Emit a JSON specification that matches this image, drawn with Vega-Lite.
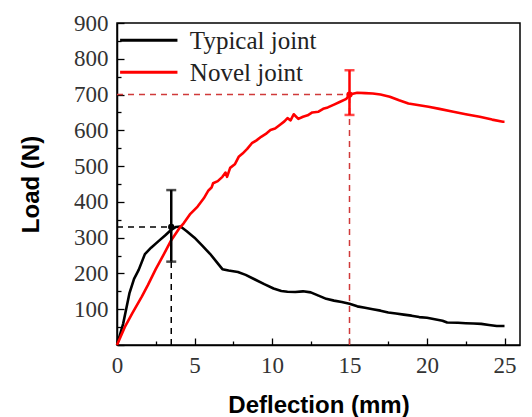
{
  "$schema": "https://vega.github.io/schema/vega-lite/v6.json",
  "width": 403,
  "height": 322,
  "autosize": {"type": "none"},
  "padding": {"left": 117, "top": 23, "right": 12, "bottom": 72},
  "background": "white",
  "resolve": {"axis": {"x": "independent", "y": "independent"}},
  "config": {
    "view": {"stroke": "black", "strokeWidth": 1.5},
    "axis": {
      "grid": false,
      "domainColor": "black",
      "domainWidth": 1.5,
      "tickColor": "black",
      "tickWidth": 1.3,
      "labelFont": "Liberation Serif",
      "labelFontSize": 23,
      "labelColor": "#333",
      "labelOverlap": false,
      "titleFont": "Liberation Sans",
      "titleFontWeight": "bold",
      "titleFontSize": 24,
      "titleColor": "black"
    }
  },
  "datasets": {
    "curves": [
      {"series": "Typical joint", "x": 0, "y": 0},
      {"series": "Typical joint", "x": 0.4, "y": 60},
      {"series": "Typical joint", "x": 0.8, "y": 144},
      {"series": "Typical joint", "x": 1.1, "y": 185},
      {"series": "Typical joint", "x": 1.4, "y": 210},
      {"series": "Typical joint", "x": 1.8, "y": 254},
      {"series": "Typical joint", "x": 2.2, "y": 272},
      {"series": "Typical joint", "x": 2.7, "y": 291},
      {"series": "Typical joint", "x": 3.1, "y": 306},
      {"series": "Typical joint", "x": 3.5, "y": 322},
      {"series": "Typical joint", "x": 3.8, "y": 330},
      {"series": "Typical joint", "x": 4.1, "y": 331},
      {"series": "Typical joint", "x": 4.5, "y": 318},
      {"series": "Typical joint", "x": 5.0, "y": 300},
      {"series": "Typical joint", "x": 5.5, "y": 278},
      {"series": "Typical joint", "x": 6.0, "y": 255},
      {"series": "Typical joint", "x": 6.5, "y": 228},
      {"series": "Typical joint", "x": 6.8, "y": 212},
      {"series": "Typical joint", "x": 7.2, "y": 208},
      {"series": "Typical joint", "x": 7.8, "y": 204},
      {"series": "Typical joint", "x": 8.3, "y": 196},
      {"series": "Typical joint", "x": 8.9, "y": 183},
      {"series": "Typical joint", "x": 9.5, "y": 170},
      {"series": "Typical joint", "x": 10.1, "y": 158},
      {"series": "Typical joint", "x": 10.6, "y": 151},
      {"series": "Typical joint", "x": 11.0, "y": 149},
      {"series": "Typical joint", "x": 11.5, "y": 148},
      {"series": "Typical joint", "x": 12.0, "y": 150},
      {"series": "Typical joint", "x": 12.5, "y": 147},
      {"series": "Typical joint", "x": 13.0, "y": 138},
      {"series": "Typical joint", "x": 13.5, "y": 129},
      {"series": "Typical joint", "x": 14.0, "y": 124},
      {"series": "Typical joint", "x": 14.5, "y": 120},
      {"series": "Typical joint", "x": 15.0, "y": 115},
      {"series": "Typical joint", "x": 15.5, "y": 108},
      {"series": "Typical joint", "x": 16.0, "y": 104},
      {"series": "Typical joint", "x": 16.5, "y": 100},
      {"series": "Typical joint", "x": 17.0, "y": 96},
      {"series": "Typical joint", "x": 17.5, "y": 91},
      {"series": "Typical joint", "x": 18.0, "y": 88},
      {"series": "Typical joint", "x": 18.5, "y": 85},
      {"series": "Typical joint", "x": 19.0, "y": 82},
      {"series": "Typical joint", "x": 19.5, "y": 78},
      {"series": "Typical joint", "x": 20.0, "y": 76},
      {"series": "Typical joint", "x": 20.5, "y": 72},
      {"series": "Typical joint", "x": 21.0, "y": 68},
      {"series": "Typical joint", "x": 21.3, "y": 63},
      {"series": "Typical joint", "x": 22.0, "y": 62},
      {"series": "Typical joint", "x": 22.5, "y": 61},
      {"series": "Typical joint", "x": 23.0, "y": 60},
      {"series": "Typical joint", "x": 23.5, "y": 59},
      {"series": "Typical joint", "x": 24.0, "y": 56},
      {"series": "Typical joint", "x": 24.5, "y": 53},
      {"series": "Typical joint", "x": 25.0, "y": 53},
      {"series": "Novel joint", "x": 0, "y": 0},
      {"series": "Novel joint", "x": 0.5, "y": 50},
      {"series": "Novel joint", "x": 1.0, "y": 90},
      {"series": "Novel joint", "x": 1.6, "y": 135},
      {"series": "Novel joint", "x": 2.0, "y": 168},
      {"series": "Novel joint", "x": 2.5, "y": 212},
      {"series": "Novel joint", "x": 3.0, "y": 252},
      {"series": "Novel joint", "x": 3.5, "y": 293},
      {"series": "Novel joint", "x": 4.0, "y": 325},
      {"series": "Novel joint", "x": 4.3, "y": 340},
      {"series": "Novel joint", "x": 4.7, "y": 365},
      {"series": "Novel joint", "x": 5.2, "y": 387},
      {"series": "Novel joint", "x": 5.6, "y": 410},
      {"series": "Novel joint", "x": 5.9, "y": 432},
      {"series": "Novel joint", "x": 6.1, "y": 440},
      {"series": "Novel joint", "x": 6.2, "y": 452},
      {"series": "Novel joint", "x": 6.5, "y": 458},
      {"series": "Novel joint", "x": 6.8, "y": 470},
      {"series": "Novel joint", "x": 7.0, "y": 482},
      {"series": "Novel joint", "x": 7.1, "y": 470},
      {"series": "Novel joint", "x": 7.3, "y": 495},
      {"series": "Novel joint", "x": 7.6, "y": 505},
      {"series": "Novel joint", "x": 7.85, "y": 526},
      {"series": "Novel joint", "x": 8.1, "y": 535},
      {"series": "Novel joint", "x": 8.4, "y": 548},
      {"series": "Novel joint", "x": 8.7, "y": 564},
      {"series": "Novel joint", "x": 9.0, "y": 572},
      {"series": "Novel joint", "x": 9.3, "y": 582},
      {"series": "Novel joint", "x": 9.6, "y": 590},
      {"series": "Novel joint", "x": 9.9, "y": 601},
      {"series": "Novel joint", "x": 10.2, "y": 605},
      {"series": "Novel joint", "x": 10.5, "y": 615},
      {"series": "Novel joint", "x": 10.8, "y": 625},
      {"series": "Novel joint", "x": 11.0, "y": 634},
      {"series": "Novel joint", "x": 11.2, "y": 628},
      {"series": "Novel joint", "x": 11.4, "y": 645},
      {"series": "Novel joint", "x": 11.7, "y": 632},
      {"series": "Novel joint", "x": 12.0, "y": 638},
      {"series": "Novel joint", "x": 12.3, "y": 642},
      {"series": "Novel joint", "x": 12.6, "y": 650},
      {"series": "Novel joint", "x": 13.0, "y": 652},
      {"series": "Novel joint", "x": 13.3, "y": 660},
      {"series": "Novel joint", "x": 13.6, "y": 664},
      {"series": "Novel joint", "x": 14.0, "y": 672},
      {"series": "Novel joint", "x": 14.4, "y": 680},
      {"series": "Novel joint", "x": 14.8, "y": 688},
      {"series": "Novel joint", "x": 15.0, "y": 700},
      {"series": "Novel joint", "x": 15.5, "y": 705},
      {"series": "Novel joint", "x": 16.0, "y": 704},
      {"series": "Novel joint", "x": 16.5, "y": 703},
      {"series": "Novel joint", "x": 17.0, "y": 700},
      {"series": "Novel joint", "x": 17.6, "y": 694},
      {"series": "Novel joint", "x": 18.2, "y": 684},
      {"series": "Novel joint", "x": 18.8, "y": 675},
      {"series": "Novel joint", "x": 19.5, "y": 670},
      {"series": "Novel joint", "x": 20.1, "y": 666},
      {"series": "Novel joint", "x": 20.8, "y": 660},
      {"series": "Novel joint", "x": 21.7, "y": 652},
      {"series": "Novel joint", "x": 22.5, "y": 645},
      {"series": "Novel joint", "x": 23.4, "y": 638},
      {"series": "Novel joint", "x": 24.2, "y": 630},
      {"series": "Novel joint", "x": 24.9, "y": 624},
      {"series": "Novel joint", "x": 25.0, "y": 624}
    ],
    "guidesRed": [
      {"x": 0, "y": 700, "x2": 15, "y2": 700},
      {"x": 15, "y": 0, "x2": 15, "y2": 700}
    ],
    "guidesBlack": [
      {"x": 0, "y": 330, "x2": 3.5, "y2": 330},
      {"x": 3.5, "y": 0, "x2": 3.5, "y2": 330}
    ],
    "peaks": [
      {"series": "Typical joint", "x": 3.5, "y": 330, "lo": 233, "hi": 433},
      {"series": "Novel joint", "x": 15, "y": 700, "lo": 643, "hi": 768}
    ],
    "legendRows": [
      {"series": "Typical joint", "x": 0.2, "x2": 3.9, "tx": 4.7, "y": 852},
      {"series": "Novel joint", "x": 0.2, "x2": 3.9, "tx": 4.7, "y": 762}
    ]
  },
  "layer": [
    {
      "data": {"name": "guidesRed"},
      "mark": {"type": "rule", "color": "#d03a3a", "strokeWidth": 1.5, "strokeDash": [6, 5]},
      "encoding": {
        "x": {"field": "x", "type": "quantitative", "scale": {"domain": [0, 25]},
          "axis": {"title": "Deflection (mm)", "orient": "bottom", "values": [0, 5, 10, 15, 20, 25],
            "tickSize": -7, "labelPadding": 16, "titlePadding": 16, "labelFlush": false}},
        "y": {"field": "y", "type": "quantitative", "scale": {"domain": [0, 900]},
          "axis": {"title": "Load (N)", "orient": "left", "values": [0, 100, 200, 300, 400, 500, 600, 700, 800, 900],
            "labelExpr": "datum.value > 0 ? datum.label : ''", "tickSize": -7, "labelPadding": 16, "titlePadding": 30}},
        "x2": {"field": "x2"},
        "y2": {"field": "y2"}
      }
    },
    {
      "data": {"name": "guidesBlack"},
      "mark": {"type": "rule", "color": "black", "strokeWidth": 1.5, "strokeDash": [6, 5]},
      "encoding": {
        "x": {"field": "x", "type": "quantitative",
          "axis": {"title": null, "orient": "bottom", "values": [2.5, 7.5, 12.5, 17.5, 22.5], "labels": false, "domain": false, "tickSize": -4}},
        "y": {"field": "y", "type": "quantitative",
          "axis": {"title": null, "orient": "left", "values": [50, 150, 250, 350, 450, 550, 650, 750, 850], "labels": false, "domain": false, "tickSize": -4}},
        "x2": {"field": "x2"},
        "y2": {"field": "y2"}
      }
    },
    {
      "data": {"name": "curves"},
      "mark": {"type": "line", "strokeWidth": 2.6, "strokeJoin": "round"},
      "encoding": {
        "x": {"field": "x", "type": "quantitative", "axis": null},
        "y": {"field": "y", "type": "quantitative", "axis": null},
        "color": {"field": "series", "type": "nominal",
          "scale": {"domain": ["Typical joint", "Novel joint"], "range": ["black", "red"]},
          "legend": null}
      }
    },
    {
      "data": {"name": "legendRows"},
      "mark": {"type": "rule", "strokeWidth": 3},
      "encoding": {
        "x": {"field": "x", "type": "quantitative", "axis": null},
        "x2": {"field": "x2"},
        "y": {"field": "y", "type": "quantitative", "axis": null},
        "color": {"field": "series", "type": "nominal", "legend": null}
      }
    },
    {
      "data": {"name": "legendRows"},
      "mark": {"type": "text", "align": "left", "baseline": "middle", "font": "Liberation Serif", "fontSize": 25, "color": "#222", "dy": 1},
      "encoding": {
        "x": {"field": "tx", "type": "quantitative", "axis": null},
        "y": {"field": "y", "type": "quantitative", "axis": null},
        "text": {"field": "series"}
      }
    },
    {
      "data": {"name": "peaks"},
      "mark": {"type": "rule", "strokeWidth": 2.5},
      "encoding": {
        "x": {"field": "x", "type": "quantitative", "axis": null},
        "y": {"field": "lo", "type": "quantitative", "axis": null},
        "y2": {"field": "hi"},
        "color": {"field": "series", "type": "nominal", "legend": null}
      }
    },
    {
      "data": {"name": "peaks"},
      "mark": {"type": "tick", "orient": "horizontal", "size": 10, "thickness": 2.5},
      "encoding": {
        "x": {"field": "x", "type": "quantitative", "axis": null},
        "y": {"field": "lo", "type": "quantitative", "axis": null},
        "color": {"field": "series", "type": "nominal", "legend": null}
      }
    },
    {
      "data": {"name": "peaks"},
      "mark": {"type": "tick", "orient": "horizontal", "size": 10, "thickness": 2.5},
      "encoding": {
        "x": {"field": "x", "type": "quantitative", "axis": null},
        "y": {"field": "hi", "type": "quantitative", "axis": null},
        "color": {"field": "series", "type": "nominal", "legend": null}
      }
    },
    {
      "data": {"name": "peaks"},
      "mark": {"type": "point", "filled": true, "size": 40, "opacity": 1},
      "encoding": {
        "x": {"field": "x", "type": "quantitative", "axis": null},
        "y": {"field": "y", "type": "quantitative", "axis": null},
        "color": {"field": "series", "type": "nominal", "legend": null}
      }
    }
  ]
}
